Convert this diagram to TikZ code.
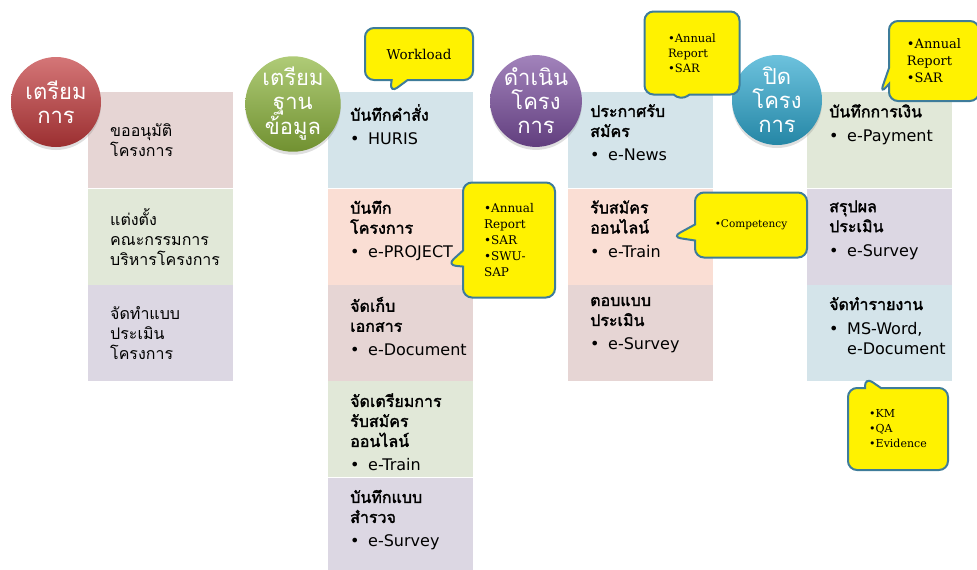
\documentclass[tikz,border=0pt]{standalone}
\usepackage{fontspec}
\usetikzlibrary{positioning,shapes.callouts,shadows}
\newfontfamily\thaifont[Script=Thai,AutoFakeBold=2]{Loma}
\newfontfamily\latinfont{DejaVu Sans}
\newfontfamily\notefont{DejaVu Serif}
\definecolor{cpink}{HTML}{E6D5D4}
\definecolor{cgreen}{HTML}{E1E8D8}
\definecolor{clav}{HTML}{DCD7E3}
\definecolor{cblue}{HTML}{D4E4EA}
\definecolor{cpeach}{HTML}{FADED4}
\definecolor{notebd}{HTML}{3E7C9A}
\definecolor{pred}{HTML}{C23B3D}
\definecolor{pgreen}{HTML}{8DB53D}
\definecolor{ppurple}{HTML}{7A4E9E}
\definecolor{pteal}{HTML}{2EA8CF}
\newcommand{\bul}[1]{{\latinfont\makebox[18pt][l]{•}#1}}
\newcommand{\cont}[1]{{\latinfont\hspace*{18pt}#1}}

\begin{document}
\begin{tikzpicture}[x=1pt,y=-1pt,
  cell/.style={rectangle,fill=#1,minimum width=145pt,minimum height=96pt,inner sep=0pt},
  txt/.style={align=left,inner sep=0pt,font=\thaifont\fontsize{16}{20}\selectfont},
  phase/.style={circle,minimum size=90pt,inner sep=0pt,align=center,text=white,
    top color=#1!70!white,bottom color=#1!80!black,
    drop shadow={opacity=0.25,shadow xshift=0pt,shadow yshift=-3pt},
    font=\thaifont\fontsize{22}{24}\selectfont},
  note/.style={rectangle callout,fill=yellow,draw=notebd,line width=2pt,
    rounded corners=9pt,callout pointer width=16pt,align=left,inner sep=3pt,
    font=\notefont\fontsize{12}{16}\selectfont}]

\useasboundingbox (0,0) rectangle (977,570);

% column 1
\node[cell=cpink,anchor=north west] (a1) at (88,92) {};
\node[cell=cgreen,below=0pt of a1] (a2) {};
\node[cell=clav,below=0pt of a2] (a3) {};
\node[txt,right=22pt of a1.west] (ta1) {ขออนุมัติ\\โครงการ};
\node[txt,right=22pt of a2.west] (ta2) {แต่งตั้ง\\คณะกรรมการ\\บริหารโครงการ};
\node[txt,right=22pt of a3.west] (ta3) {จัดทำแบบ\\ประเมิน\\โครงการ};

% column 2
\node[cell=cblue,anchor=north west] (b1) at (328,92) {};
\node[cell=cpeach,below=0pt of b1] (b2) {};
\node[cell=cpink,below=0pt of b2] (b3) {};
\node[cell=cgreen,below=0pt of b3] (b4) {};
\node[cell=clav,below=0pt of b4] (b5) {};
\node[txt,below right=12pt and 22pt of b1.north west] (tb1) {\textbf{บันทึกคำสั่ง}\\[4pt]\bul{HURIS}};
\node[txt,below right=12pt and 22pt of b2.north west] (tb2) {\textbf{บันทึก}\\\textbf{โครงการ}\\[4pt]\bul{e-PROJECT}};
\node[txt,below right=12pt and 22pt of b3.north west] (tb3) {\textbf{จัดเก็บ}\\\textbf{เอกสาร}\\[4pt]\bul{e-Document}};
\node[txt,below right=12pt and 22pt of b4.north west] (tb4) {\textbf{จัดเตรียมการ}\\\textbf{รับสมัคร}\\\textbf{ออนไลน์}\\[4pt]\bul{e-Train}};
\node[txt,below right=12pt and 22pt of b5.north west] (tb5) {\textbf{บันทึกแบบ}\\\textbf{สำรวจ}\\[4pt]\bul{e-Survey}};

% column 3
\node[cell=cblue,anchor=north west] (c1) at (568,92) {};
\node[cell=cpeach,below=0pt of c1] (c2) {};
\node[cell=cpink,below=0pt of c2] (c3) {};
\node[txt,below right=12pt and 22pt of c1.north west] (tc1) {\textbf{ประกาศรับ}\\\textbf{สมัคร}\\[4pt]\bul{e-News}};
\node[txt,below right=12pt and 22pt of c2.north west] (tc2) {\textbf{รับสมัคร}\\\textbf{ออนไลน์}\\[4pt]\bul{e-Train}};
\node[txt,below right=12pt and 22pt of c3.north west] (tc3) {\textbf{ตอบแบบ}\\\textbf{ประเมิน}\\[4pt]\bul{e-Survey}};

% column 4
\node[cell=cgreen,anchor=north west] (d1) at (807,92) {};
\node[cell=clav,below=0pt of d1] (d2) {};
\node[cell=cblue,below=0pt of d2] (d3) {};
\node[txt,below right=12pt and 22pt of d1.north west] (td1) {\textbf{บันทึกการเงิน}\\[4pt]\bul{e-Payment}};
\node[txt,below right=12pt and 22pt of d2.north west] (td2) {\textbf{สรุปผล}\\\textbf{ประเมิน}\\[4pt]\bul{e-Survey}};
\node[txt,below right=12pt and 22pt of d3.north west] (td3) {\textbf{จัดทำรายงาน}\\[4pt]\bul{MS-Word,}\\\cont{e-Document}};

% phases
\node[phase=pred] (p1) at (56,102) {เตรียม\\การ};
\node[phase=pgreen] (p2) at (293,104) {เตรียม\\ฐาน\\ข้อมูล};
\node[phase=ppurple] (p3) at (536,101) {ดำเนิน\\โครง\\การ};
\node[phase=pteal] (p4) at (777,100) {ปิด\\โครง\\การ};

% callouts
\coordinate (q1) at (390,93);
\coordinate (q2) at (447,265);
\coordinate (q3) at (680,101);
\coordinate (q4) at (672,237);
\coordinate (q5) at (880,94);
\coordinate (q6) at (865,377);
\node[note,minimum width=108pt,minimum height=52pt,font=\notefont\fontsize{13.5}{16}\selectfont,callout absolute pointer=(q1)] (n1) at (419,54) {Workload};
\node[note,minimum width=92pt,minimum height=115pt,callout absolute pointer=(q2)] (n2) at (509,240) {•Annual\\Report\\•SAR\\•SWU-\\SAP};
\node[note,minimum width=95pt,minimum height=83pt,font=\notefont\fontsize{11.5}{15}\selectfont,callout absolute pointer=(q3)] (n3) at (692,53) {•Annual\\Report\\•SAR};
\node[note,minimum width=112pt,minimum height=65pt,font=\notefont\fontsize{10.5}{12}\selectfont,callout absolute pointer=(q4)] (n4) at (751,225) {•Competency};
\node[note,minimum width=90pt,minimum height=80pt,font=\notefont\fontsize{13}{17}\selectfont,callout absolute pointer=(q5)] (n5) at (934,61) {•Annual\\Report\\•SAR};
\node[note,minimum width=100pt,minimum height=82pt,font=\notefont\fontsize{11}{15}\selectfont,callout absolute pointer=(q6)] (n6) at (898,429) {•KM\\•QA\\•Evidence};
\end{tikzpicture}
\end{document}
